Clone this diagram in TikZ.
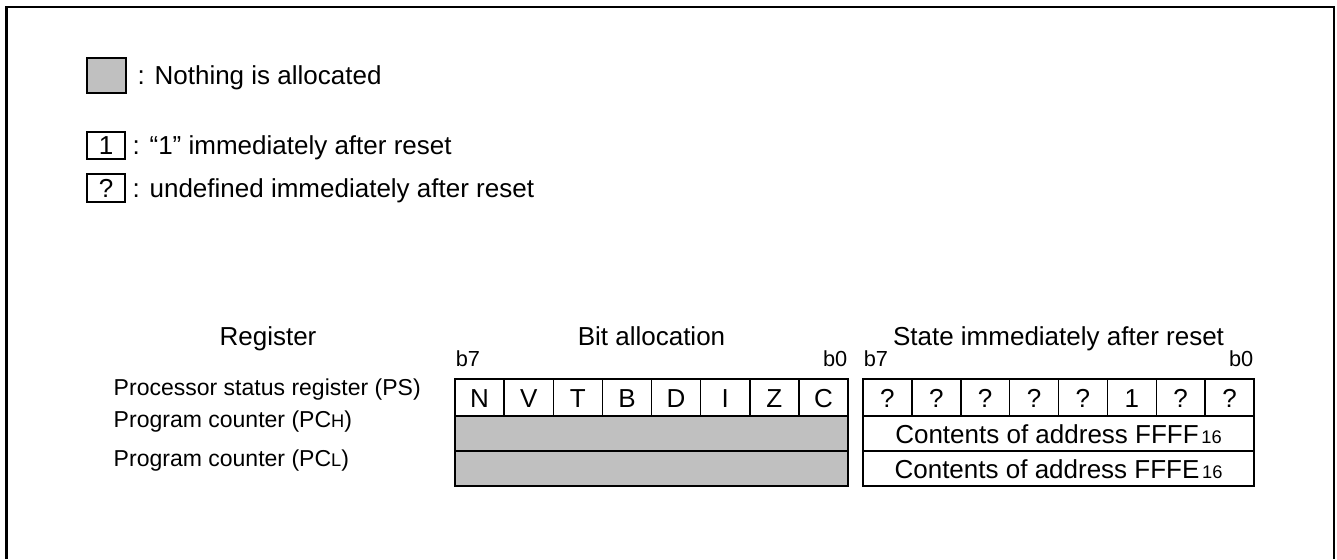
\documentclass[tikz,border=0pt]{standalone}
\usepackage{fontspec}
\setmainfont{Liberation Sans}
\usetikzlibrary{calc}
\definecolor{unused}{RGB}{192,192,192}
\def\bigtxt{\fontsize{14.8}{17}\selectfont}
\def\regtxt{\fontsize{13.1}{15}\selectfont}
\def\bittxt{\fontsize{12.4}{14}\selectfont}
\def\lowtxt#1{{\fontsize{10.4}{12}\selectfont #1}}

\begin{document}
\begin{tikzpicture}[x=0.02cm,y=-0.02cm,line width=0.85pt,
		txt/.style={inner sep=0pt,font=\bigtxt},
		reg/.style={inner sep=0pt,font=\regtxt,anchor=base west},
		bitno/.style={inner sep=0pt,font=\bittxt}]
				\useasboundingbox (0,0) rectangle (1337,559);
				\draw[line width=1.2pt] (6.5,559) -- (6.5,7) -- (1334,7) -- (1334,559);
				
				% legend
				\draw[fill=unused] (87,58) rectangle (126,93);
				\node[txt,anchor=base west] (nothing) at (137,84) {: Nothing is allocated};
				\draw (87,132) rectangle (125,159);
				\node[txt,anchor=base] (one) at (106,154) {1};
				\node[txt,anchor=base west] (onetxt) at (132,154) {: “1” immediately after reset};
				\draw (87,174) rectangle (125,202);
				\node[txt,anchor=base] (undef) at (106,197) {?};
				\node[txt,anchor=base west] (undeftxt) at (132,197) {: undefined immediately after reset};
				
				% titles
				\node[txt,anchor=base] (register) at (268,345) {Register};
				\node[txt,anchor=base] (bitalloc) at (651.5,345) {Bit allocation};
				\node[txt,anchor=base] (state) at (1058.5,345) {State immediately after reset};
				\node[bitno,anchor=base west] (bsev) at (455,366) {b7};
				\node[bitno,anchor=base east] (bzero) at (848,366) {b0};
				\node[bitno,anchor=base west] (ssev) at (863,366) {b7};
				\node[bitno,anchor=base east] (szero) at (1254,366) {b0};
				
				% register names
				\node[reg] (ps) at (113,395) {Processor status register (PS)};
				\node[reg] (pch) at (113,427) {Program counter (PC\lowtxt{H})};
				\node[reg] (pcl) at (113,466) {Program counter (PC\lowtxt{L})};
				
				% bit allocation
				\draw (455,379) rectangle (848,416);
				\draw[fill=unused] (455,416) rectangle (848,451);
				\draw[fill=unused] (455,451) rectangle (848,486);
				\foreach \i in {1,...,7}
					\draw ({455+49.125*\i},379) -- ({455+49.125*\i},416);
				\foreach \b [count=\i from 0] in {N,V,T,B,D,I,Z,C}
					\node[txt,anchor=base] (bit\i) at ({455+49.125*(\i+0.5)},407) {\b};
				
				% state after reset
				\draw (863,379) rectangle (1254,416);
				\draw (863,416) rectangle (1254,451);
				\draw (863,451) rectangle (1254,486);
				\foreach \i in {1,...,7}
					\draw ({863+48.875*\i},379) -- ({863+48.875*\i},416);
				\foreach \v [count=\i from 0] in {?,?,?,?,?,1,?,?}
					\node[txt,anchor=base] (val\i) at ({863+48.875*(\i+0.5)},407) {\v};
				\node[txt,anchor=base] (pchval) at (1058.5,443) {Contents of address FFFF\kern1.5pt\lowtxt{16}};
				\node[txt,anchor=base] (pclval) at (1058.5,478) {Contents of address FFFE\kern1.5pt\lowtxt{16}};
			\end{tikzpicture}
\end{document}
